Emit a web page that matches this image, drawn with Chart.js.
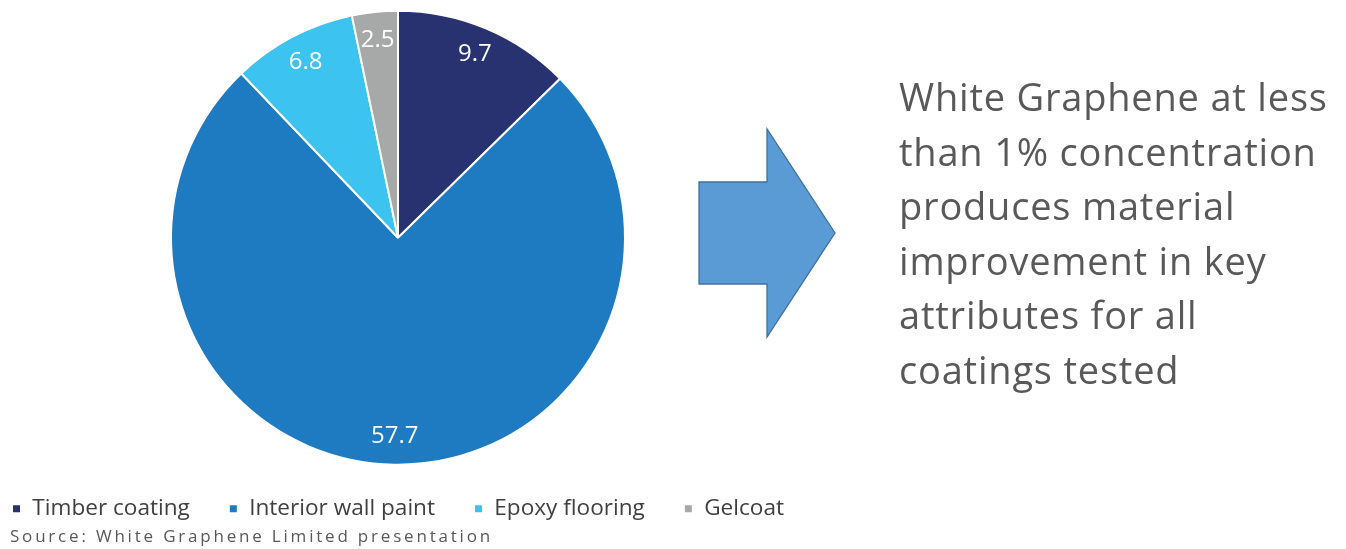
<!DOCTYPE html>
<html>
<head>
<meta charset="utf-8">
<script src="https://cdn.jsdelivr.net/npm/chart.js@4.4.1/dist/chart.umd.min.js"></script>
<style>
  body { margin: 0; background: #fff; width: 1346px; height: 549px; position: relative; overflow: hidden; font-family: "Open Sans", sans-serif; }
  #chartBox { position: absolute; left: -52px; top: 0; width: 900px; height: 530px; }
  #arrow { position: absolute; left: 0; top: 0; }
  #note { position: absolute; left: 899px; top: 69px; font-size: 38px; letter-spacing: 0.8px; line-height: 54.6px; color: #595959; }
  #source { position: absolute; left: 10px; top: 524px; font-size: 17px; letter-spacing: 2.8px; color: #595959; }
</style>
</head>
<body>
<div id="chartBox"><canvas id="myChart"></canvas></div>
<svg id="arrow" width="1346" height="549">
  <polygon points="699,182 767,182 767,129 835,233 767,337 767,284 699,284" fill="#5b9bd5" stroke="#41719c" stroke-width="1.3"/>
</svg>
<div id="note">White Graphene at less<br>than 1% concentration<br>produces material<br>improvement in key<br>attributes for all<br>coatings tested</div>
<div id="source">Source: White Graphene Limited presentation</div>

<script>
var categories = ["Timber coating", "Interior wall paint", "Epoxy flooring", "Gelcoat"];
var values = [9.7, 57.7, 6.8, 2.5];
var colors = ["#283271", "#1e7bc2", "#3dc3ef", "#a6a9a8"];

// value labels inside each slice
var sliceLabels = {
	id: "sliceLabels",
	afterDatasetsDraw: function(chart) {
		var ctx = chart.ctx;
		var meta = chart.getDatasetMeta(0);
		ctx.save();
		ctx.fillStyle = "#ffffff";
		ctx.font = "24px 'Open Sans', sans-serif";
		ctx.textAlign = "center";
		ctx.textBaseline = "middle";
		meta.data.forEach(function(arc, i) {
			var p = arc.getProps(["x", "y", "startAngle", "endAngle", "outerRadius"], true);
			var mid = (p.startAngle + p.endAngle) / 2;
			var r = p.outerRadius * 0.875;
			ctx.fillText(values[i].toFixed(1), p.x + Math.cos(mid) * r, p.y + Math.sin(mid) * r);
		});
		ctx.restore();
	}
};

var ctx = document.getElementById("myChart");
var myChart = new Chart(ctx, {
	type: 'pie',
	data: {
		labels: categories,
		datasets: [{
			data: values,
			backgroundColor: colors,
			borderColor: "#ffffff",
			borderWidth: 2
		}]
	},
	options: {
		responsive: true,
		maintainAspectRatio: false,
		animation: false,
		radius: 227,
		layout: { padding: { top: 17, bottom: 0 } },
		plugins: {
			tooltip: { enabled: false },
			legend: {
				position: 'bottom',
				labels: {
					boxWidth: 9,
					boxHeight: 9,
					padding: 39,
					color: "#404040",
					font: { size: 22.6, family: "'Open Sans', sans-serif" }
				}
			}
		}
	},
	plugins: [sliceLabels]
});
</script>
</body>
</html>
